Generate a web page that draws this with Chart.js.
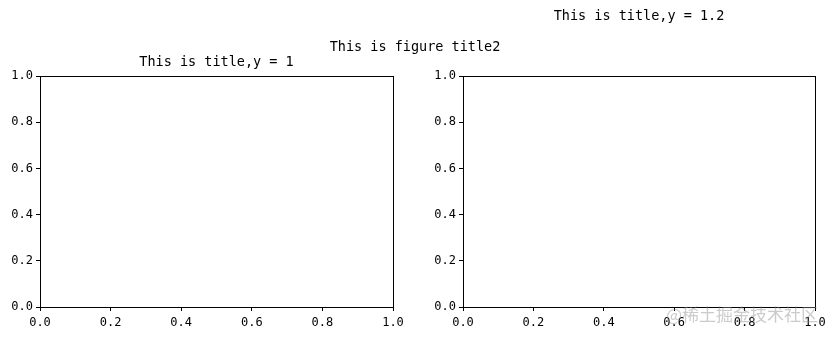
<!DOCTYPE html>
<html>
<head>
<meta charset="utf-8">
<script src="https://cdn.jsdelivr.net/npm/chart.js@4"></script>
<style>
  html, body { margin: 0; padding: 0; background: #fff; }
  #wrap { position: relative; width: 835px; height: 339px; }
  canvas { position: absolute; left: 0; top: 0; }
</style>
</head>
<body>
<div id="wrap">
  <canvas id="left" width="835" height="339"></canvas>
  <canvas id="right" width="835" height="339"></canvas>
</div>
<script>
// both subplots are empty, only axes 0..1
const xTicks = [0, 0.2, 0.4, 0.6, 0.8, 1.0];
const yTicks = [0, 0.2, 0.4, 0.6, 0.8, 1.0];
const axisMin = 0;
const axisMax = 1;

const leftTitle = 'This is title,y = 1';
const rightTitle = 'This is title,y = 1.2';
const figTitle = 'This is figure title2';
const watermark = '@稀土掘金技术社区';

const mono = '"DejaVu Sans Mono", "Liberation Mono", monospace';

// draws frame (all 4 spines) and the free text
let frameAndText = (texts) => ({
    id: 'frameAndText',
    afterDraw(chart) {
        const { ctx, chartArea: a } = chart;
        ctx.save();
        ctx.strokeStyle = '#000';
        ctx.lineWidth = 1;
        ctx.strokeRect(Math.round(a.left) + 0.5, Math.round(a.top) + 0.5,
            Math.round(a.right - a.left), Math.round(a.bottom - a.top));
        texts.forEach(t => {
            ctx.font = t.font;
            ctx.fillStyle = t.color || '#000';
            ctx.textAlign = 'center';
            ctx.textBaseline = 'middle';
            let x = t.x === 'center' ? (a.left + a.right) / 2 : t.x;
            ctx.fillText(t.text, x, t.y);
        });
        ctx.restore();
    }
});

let makeScale = (ticks, isX) => ({
    type: 'linear',
    min: axisMin,
    max: axisMax,
    afterBuildTicks: s => { s.ticks = ticks.map(v => ({ value: v })); },
    afterFit: s => { if (isX) s.height = 25; else s.width = 40; },
    border: { display: true, color: '#000', width: 1 },
    grid: {
        drawOnChartArea: false,
        drawTicks: true,
        tickLength: 4,
        color: '#000',
        tickColor: '#000'
    },
    ticks: {
        color: '#000',
        font: { family: mono, size: 12 },
        padding: isX ? 5 : 3,
        maxRotation: 0,
        autoSkip: false,
        callback: v => Number(v).toFixed(1)
    }
});

let makeChart = (id, padding, texts) => new Chart(document.getElementById(id), {
    type: 'scatter',
    data: { datasets: [{ data: [] }] },
    options: {
        responsive: false,
        animation: false,
        layout: { padding },
        scales: {
            x: makeScale(xTicks, true),
            y: makeScale(yTicks, false)
        },
        plugins: {
            legend: { display: false },
            tooltip: { enabled: false }
        }
    },
    plugins: [frameAndText(texts)]
});

makeChart('left', { left: 0, right: 442, top: 76, bottom: 7 }, [
    { text: leftTitle, x: 'center', y: 62, font: '13.5px ' + mono },
    { text: figTitle, x: 415, y: 47, font: '13.5px ' + mono }
]);

makeChart('right', { left: 423, right: 20, top: 76, bottom: 7 }, [
    { text: rightTitle, x: 'center', y: 16, font: '13.5px ' + mono },
    { text: watermark, x: 742, y: 315, font: '17px "Noto Sans CJK SC"', color: 'rgba(140,140,140,0.45)' }
]);
</script>
</body>
</html>
